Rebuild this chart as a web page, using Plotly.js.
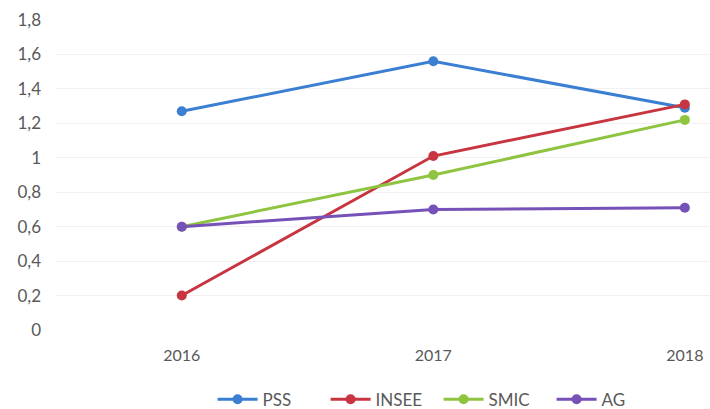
<!DOCTYPE html>
<html>
<head>
<meta charset="utf-8">
<script src="https://cdn.plot.ly/plotly-3.0.1.min.js"></script>
<style>html,body{margin:0;padding:0;background:#fff;}#chart{width:710px;height:409px;}</style>
</head>
<body>
<div id="chart"></div>
<script>
var years = ['2016', '2017', '2018'];
var pss = [1.27, 1.56, 1.29];
var insee = [0.2, 1.01, 1.31];
var smic = [0.6, 0.9, 1.22];
var ag = [0.6, 0.7, 0.71];
var seriesNames = ['PSS', 'INSEE', 'SMIC', 'AG'];
var seriesColors = ['#3a7fd2', '#c8343f', '#8fc441', '#7651b8'];
var seriesValues = [pss, insee, smic, ag];

var traces = seriesValues.map(function (vals, i) {
  return {
    x: years, y: vals, type: 'scatter', mode: 'lines+markers', name: seriesNames[i],
    line: {color: seriesColors[i], width: 3},
    marker: {color: seriesColors[i], size: 10}
  };
});

var layout = {
  width: 710, height: 409,
  margin: {l: 56, r: 0, t: 20, b: 79, autoexpand: false},
  separators: ', ',
  paper_bgcolor: '#ffffff', plot_bgcolor: '#ffffff',
  font: {family: 'Lato, "Open Sans", sans-serif', size: 17, color: '#595959'},
  xaxis: {type: 'category', range: [-0.5, 2.1], showgrid: false, zeroline: false, showline: false, ticks: '', ticklabelstandoff: 14, tickfont: {size: 16, color: '#595959'}},
  yaxis: {range: [0, 1.8], dtick: 0.2, tick0: 0, showgrid: true, gridcolor: '#f1f1f1', gridwidth: 1, zeroline: false, showline: false, ticks: '', ticklabelstandoff: 14, tickfont: {size: 17, color: '#595959'}},
  showlegend: true,
  legend: {orientation: 'h', x: 0.585, xanchor: 'center', y: -0.225, yanchor: 'middle', font: {size: 17, color: '#595959'}, itemwidth: 40, entrywidth: 58, entrywidthmode: 'pixels', traceorder: 'normal'}
};

Plotly.newPlot('chart', traces, layout, {displayModeBar: false, staticPlot: true});
</script>
</body>
</html>
